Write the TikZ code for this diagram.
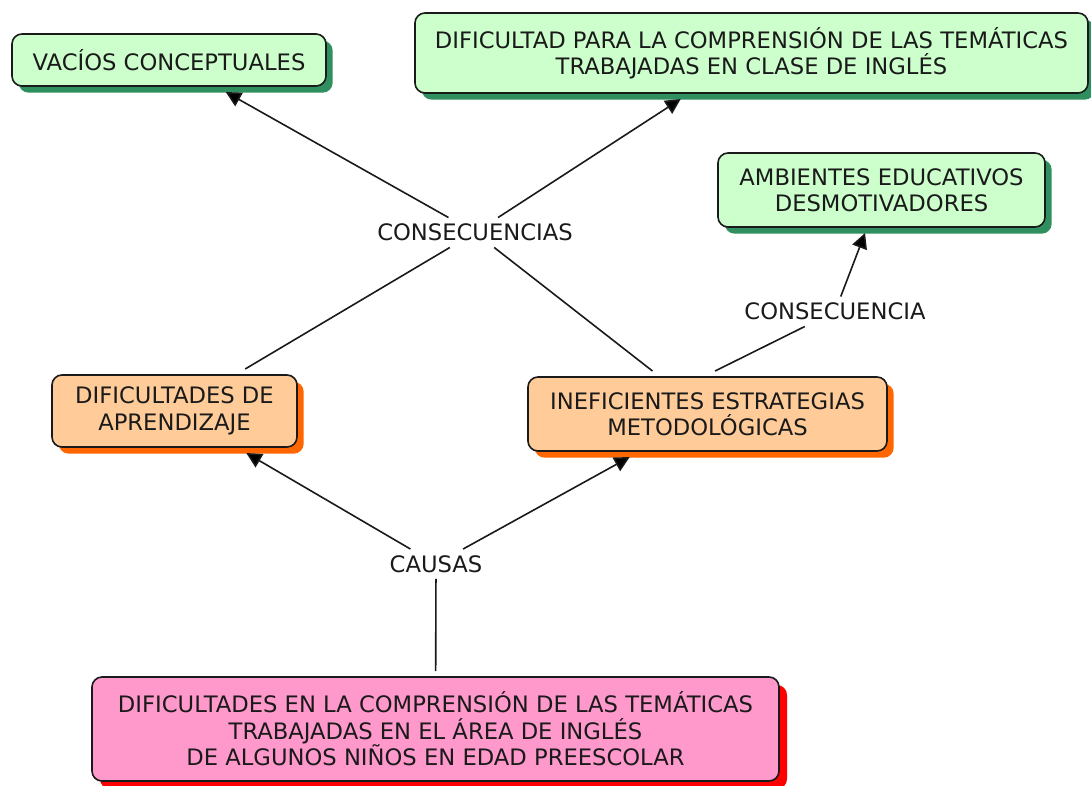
\documentclass[tikz,border=0pt]{standalone}
\usepackage{fontspec}
\setmainfont{DejaVu Sans}
\usepackage{tikz}
\usetikzlibrary{positioning, arrows.meta, shadows}

\definecolor{verdeclaro}{HTML}{CCFFCC}
\definecolor{verdesombra}{HTML}{2F8F5F}
\definecolor{naranjaclaro}{HTML}{FFCC99}
\definecolor{naranjasombra}{HTML}{FF6600}
\definecolor{rosa}{HTML}{FF99CC}
\definecolor{rojosombra}{HTML}{FF0000}
\definecolor{tinta}{HTML}{1A1A1A}

\tikzset{
	letra/.style={font=\fontsize{17pt}{19.8pt}\selectfont, text=tinta},
	concepto/.style={letra, draw=tinta, line width=1.2pt, rounded corners=7.5pt,
		align=center, inner sep=0pt, outer sep=4.5pt},
	verde/.style={concepto, fill=verdeclaro,
		drop shadow={shadow xshift=5pt, shadow yshift=-5pt, fill=verdesombra, opacity=1}},
	naranja/.style={concepto, fill=naranjaclaro,
		drop shadow={shadow xshift=5pt, shadow yshift=-5pt, fill=naranjasombra, opacity=1}},
	problema/.style={concepto, fill=rosa,
		drop shadow={shadow xshift=6pt, shadow yshift=-6pt, fill=rojosombra, opacity=1}},
	enlace/.style={letra, inner xsep=2pt, inner ysep=4.8pt, outer sep=0pt},
	conector/.style={draw=tinta, line width=1.2pt},
	flecha/.style={-{Triangle[length=11.5pt, width=11.5pt]}}
}

\begin{document}
\begin{tikzpicture}[x=0.75pt, y=-0.75pt]
	\useasboundingbox (0,0) rectangle (1091,785);
	
	\node[verde, minimum width=235.5pt, minimum height=39pt] (vac) at (169,60) {VACÍOS CONCEPTUALES};
	\node[verde, minimum width=504.75pt, minimum height=60pt] (difc) at (751.5,53) {DIFICULTAD PARA LA COMPRENSIÓN DE LAS TEMÁTICAS\\TRABAJADAS EN CLASE DE INGLÉS};
	\node[verde, minimum width=245.25pt, minimum height=55.5pt] (amb) at (881.5,190) {AMBIENTES EDUCATIVOS\\DESMOTIVADORES};
	\node[naranja, minimum width=183.75pt, minimum height=54pt] (apr) at (174.5,411) {DIFICULTADES DE\\APRENDIZAJE};
	\node[naranja, minimum width=269.25pt, minimum height=55.5pt] (inef) at (707.5,414) {INEFICIENTES ESTRATEGIAS\\METODOLÓGICAS};
	\node[problema, minimum width=515.25pt, minimum height=78pt] (pro) at (435.5,729) {DIFICULTADES EN LA COMPRENSIÓN DE LAS TEMÁTICAS\\TRABAJADAS EN EL ÁREA DE INGLÉS\\DE ALGUNOS NIÑOS EN EDAD PREESCOLAR};
	
	\node[enlace] (cons) at (475,232.5) {CONSECUENCIAS};
	\node[enlace] (conz) at (835,311.5) {CONSECUENCIA};
	\node[enlace] (causas) at (436,564) {CAUSAS};
	
	\draw[conector]
	(cons) edge[flecha] (vac)
	edge[flecha] (difc)
	(apr) edge (cons)
	(inef) edge (cons)
	(conz) edge[flecha] (amb)
	(causas) edge[flecha] (apr)
	edge[flecha] (inef)
	(pro) edge (causas);
	\draw[conector] (conz) -- (inef.80);
\end{tikzpicture}
\end{document}
